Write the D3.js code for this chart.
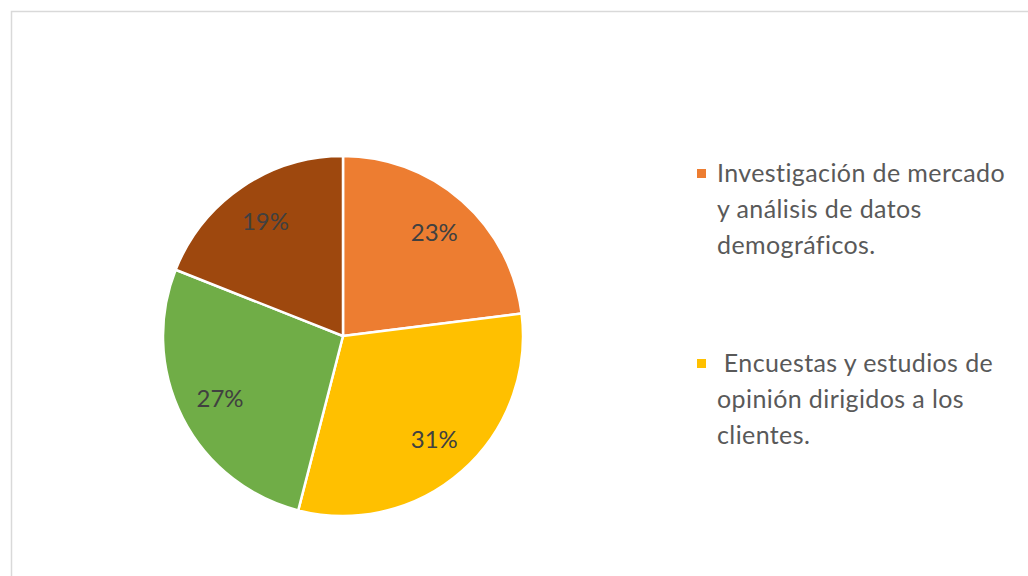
<!DOCTYPE html>
<html>
<head>
<meta charset="utf-8">
<script src="https://cdn.jsdelivr.net/npm/d3@7"></script>
<style>
  html, body { margin: 0; padding: 0; background: #fff; }
  svg { display: block; }
</style>
</head>
<body>
<svg id="chart" width="1028" height="576"></svg>
<script>
// Share of each research method (percent), clockwise from 12 o'clock
const shares = [23, 31, 27, 19];
const sliceColors = ["#ED7D31", "#FFC000", "#70AD47", "#9E480E"];

// Legend entries shown beside the pie (text wrapped as it appears)
const legendLines = [
  ["Investigación de mercado", "y análisis de datos", "demográficos."],
  ["\u00a0Encuestas y estudios de", "opinión dirigidos a los", "clientes."]
];
const legendColors = ["#ED7D31", "#FFC000"];

const svg = d3.select("#chart");
const fontFamily = "Lato, 'Open Sans', sans-serif";

// Chart frame (extends past the right and bottom edges)
svg.append("rect")
  .attr("x", 11.5).attr("y", 11.5)
  .attr("width", 1100).attr("height", 700)
  .attr("fill", "#fff")
  .attr("stroke", "#d9d9d9")
  .attr("stroke-width", 1.5);

const cx = 343, cy = 336, radius = 180;

const pie = d3.pie().sort(null).value(d => d);
const arcs = pie(shares);

const arc = d3.arc().innerRadius(0).outerRadius(radius);
const labelArc = d3.arc().innerRadius(138).outerRadius(138);

const g = svg.append("g").attr("transform", `translate(${cx},${cy})`);

g.selectAll("path.slice")
  .data(arcs)
  .join("path")
  .attr("class", "slice")
  .attr("d", arc)
  .attr("fill", (d, i) => sliceColors[i])
  .attr("stroke", "#fff")
  .attr("stroke-width", 2.5)
  .attr("stroke-linejoin", "round");

g.selectAll("text.pct")
  .data(arcs)
  .join("text")
  .attr("class", "pct")
  .attr("transform", d => `translate(${labelArc.centroid(d)})`)
  .attr("text-anchor", "middle")
  .attr("dy", "0.35em")
  .attr("font-family", fontFamily)
  .attr("font-size", 24)
  .attr("fill", "#404040")
  .text(d => d.data + "%");

// Legend
const legendX = 697, legendTextX = 717;
const legendTops = [173, 363];
const lineStep = 36;

const items = svg.selectAll("g.legend")
  .data(legendLines)
  .join("g")
  .attr("class", "legend")
  .attr("transform", (d, i) => `translate(0,${legendTops[i]})`);

items.append("rect")
  .attr("x", legendX).attr("y", -4)
  .attr("width", 9).attr("height", 9)
  .attr("fill", (d, i) => legendColors[i]);

items.selectAll("text")
  .data(d => d)
  .join("text")
  .attr("x", legendTextX)
  .attr("y", (d, j) => j * lineStep)
  .attr("dy", "0.35em")
  .attr("font-family", fontFamily)
  .attr("font-size", 25)
  .attr("letter-spacing", 0.4)
  .attr("fill", "#595959")
  .text(d => d);
</script>
</body>
</html>
